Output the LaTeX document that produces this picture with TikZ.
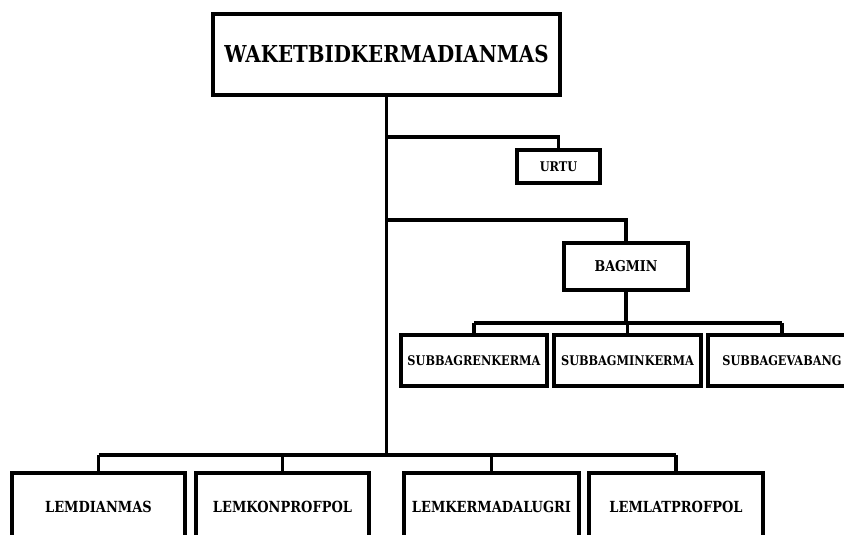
\documentclass[tikz,border=0pt]{standalone}
\usepackage{fontspec}
\setmainfont{DejaVu Serif}[FakeStretch=0.85]
\usetikzlibrary{shadows}
\tikzset{
	unit/.style={draw,line width=3.4pt,fill=white,font=\bfseries\fontsize{13.3}{15}\selectfont,
		inner sep=0pt,drop shadow={opacity=0.25,shadow xshift=1.2pt,shadow yshift=-1.2pt}},
	link/.style={line width=3.4pt},
	big/.style={font=\bfseries\fontsize{#1}{#1}\selectfont}
}
\begin{document}
\begin{tikzpicture}[x=1pt,y=-1pt]
\useasboundingbox (0,0) rectangle (844,535);
\clip (0,0) rectangle (844,535);
\def\busurtu{137}
\def\busbag{220}
\def\bussub{323}
\def\buslem{455}
% head
\node[unit,big=23.3,minimum width=347pt,minimum height=81pt]
	(waket) at (386.5,54.5) {WAKETBIDKERMADIANMAS};
% staff
\node[unit,minimum width=83pt,minimum height=33pt] (urtu) at (558.5,166.5) {URTU};
\node[unit,big=14.9,minimum width=124pt,minimum height=47pt] (bagmin) at (626,266.5) {BAGMIN};
\node[unit,minimum width=146pt,minimum height=51pt] (renkerma) at (474,360.5) {SUBBAGRENKERMA};
\node[unit,minimum width=147pt,minimum height=51pt] (minkerma) at (627.5,360.5) {SUBBAGMINKERMA};
\node[unit,minimum width=148pt,minimum height=51pt] (evabang) at (782,360.5) {SUBBAGEVABANG};
% lembaga
\node[unit,big=15.3,minimum width=173pt,minimum height=68pt] (dianmas) at (98.5,507) {LEMDIANMAS};
\node[unit,big=15.3,minimum width=173pt,minimum height=68pt] (konprof) at (282.5,507) {LEMKONPROFPOL};
\node[unit,big=15.3,minimum width=175pt,minimum height=68pt] (kerma) at (491.5,507) {LEMKERMADALUGRI};
\node[unit,big=15.3,minimum width=174pt,minimum height=68pt] (latprof) at (676,507) {LEMLATPROFPOL};

\coordinate (trunk) at (waket.south |- 0,\buslem);
\draw[link] (waket.south)--(trunk);
\draw[link] (waket.south |- 0,\busurtu) -| (urtu.north);
\draw[link] (waket.south |- 0,\busbag) -| (bagmin.north);
\draw[link] (bagmin.south)--(bagmin.south |- 0,\bussub);
\draw[link] (renkerma.north |- 0,\bussub)--(evabang.north |- 0,\bussub);
\foreach \n in {renkerma,minkerma,evabang}
	\draw[link] (\n.north |- 0,\bussub)--(\n.north);
\draw[link] (dianmas.north |- 0,\buslem)--(latprof.north |- 0,\buslem);
\foreach \n in {dianmas,konprof,kerma,latprof}
	\draw[link] (\n.north |- 0,\buslem)--(\n.north);
\end{tikzpicture}
\end{document}
